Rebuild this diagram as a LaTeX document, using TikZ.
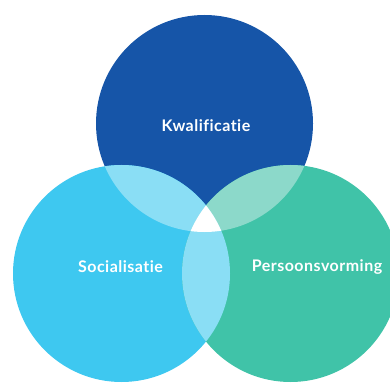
\documentclass[tikz,border=0pt]{standalone}
\usepackage{fontspec}
\setmainfont{Lato}[LetterSpace=3,Ligatures=NoCommon]
\usepackage{tikz}
\usetikzlibrary{positioning}

\definecolor{kwalblue}{HTML}{1655A8}
\definecolor{socblue}{HTML}{3EC8F0}
\definecolor{perteal}{HTML}{40C3A8}
\definecolor{lightblue}{HTML}{8ADEF5}
\definecolor{lightteal}{HTML}{8CD9CA}

\begin{document}
\begin{tikzpicture}[
        x=1pt,y=1pt,
        every node/.append style={text=white,font=\bfseries\fontsize{16}{19}\selectfont},
        ring/.style={circle,minimum size=217pt,inner sep=0pt}
    ]
        \useasboundingbox (0,0) rectangle (390,383);
        \clip (0,0) rectangle (390,383);

        \node[ring,fill=kwalblue] (kwal) at (204.5,259.5) {};
        \node[ring,fill=socblue] (soc) at (121.5,109.5) {};
        \node[ring,fill=perteal] (pers) at (290.5,109.5) {};

        \begin{scope}
            \clip (kwal.center) circle (108.5);
            \fill[lightblue] (soc.center) circle (108.5);
            \fill[lightteal] (pers.center) circle (108.5);
        \end{scope}
        \begin{scope}
            \clip (soc.center) circle (108.5);
            \fill[lightblue] (pers.center) circle (108.5);
            \clip (pers.center) circle (108.5);
            \fill[white] (kwal.center) circle (108.5);
        \end{scope}

        \node at (206,257) {Kwalificatie};
        \node at (120.5,116) {Socialisatie};
        \node at (317,116) {Persoonsvorming};
    \end{tikzpicture}
\end{document}
